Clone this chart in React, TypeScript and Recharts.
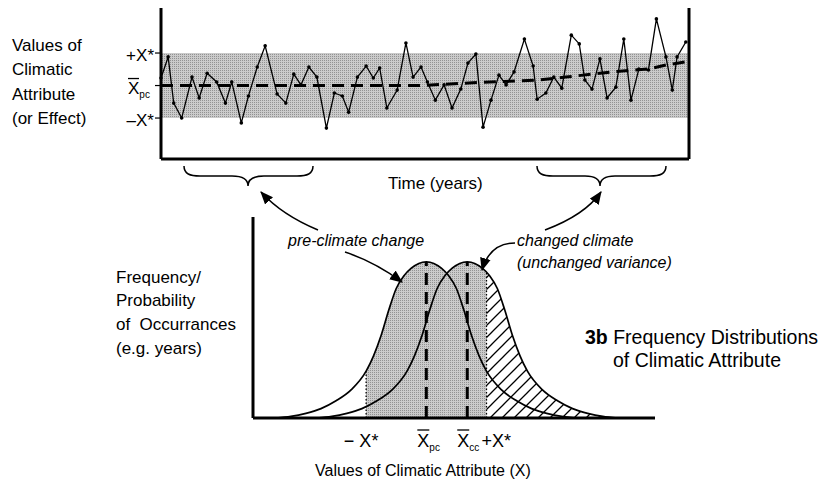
import React from "react";
import { LineChart, Line, XAxis, YAxis, ReferenceArea, ReferenceLine, ComposedChart, Area } from "recharts";

const FONT = '"Liberation Sans", Arial, Helvetica, sans-serif';

// top panel: yearly values of the attribute, in units of X*
const YEARS = [0, 0.9, 1.6, 2.6, 3.9, 4.8, 5.8, 7.0, 8.1, 8.9, 10.1, 11.0, 12.1, 13.1, 14.6, 15.7, 16.7, 17.6, 18.6, 19.6,
  20.8, 21.8, 22.8, 23.6, 24.7, 25.8, 26.7, 27.5, 28.4, 29.7, 30.8, 31.7, 32.7, 33.5, 34.5, 35.6, 36.6, 37.7, 38.6, 39.6,
  40.5, 41.5, 42.5, 43.4, 44.4, 45.7, 46.8, 47.3, 48.4, 49.4, 50.4, 51.6, 52.6, 53.3, 54.2, 55.2, 56.1, 57.2, 58.2, 59.1,
  60.1, 61.3, 62.3, 63.5, 64.3, 64.9, 66.0];
const VALUES = [0.23, 0.88, -0.54, -1.0, 0.26, -0.38, 0.38, 0.11, -0.54, 0.11, -1.15, -0.32, 0.57, 1.22, -0.26, -0.54, 0.35, 0.02, 0.57, 0.26,
  -1.31, -0.23, -0.32, -0.82, 0.26, 0.6, 0.23, 0.54, -0.69, -0.14, 1.31, 0.26, 0.57, 0.11, -0.45, 0.02, -0.69, -0.11, 0.69, 0.97,
  -1.28, -0.45, 0.32, 0.02, 0.42, 1.43, 0.6, -0.42, -0.23, 0.26, -0.08, 1.55, 1.28, 0.17, -0.11, 0.82, -0.38, -0.05, 1.43, -0.45,
  0.51, 0.48, 2.05, 0.88, -0.14, 0.88, 1.34];
const MEAN_YEARS = [0, 32.5, 38.7, 47.5, 50.9, 56.7, 61.4, 63.5, 66.4];
const MEAN_VALUES = [0, 0, 0.08, 0.17, 0.26, 0.42, 0.51, 0.63, 0.75];
const TOP_TICKS = [-1, 0, 1];
const CC_LEVEL = [0.75];

// bottom panel: frequency curves, x in units of X*, height relative to the peak
const PC_X = [-2.5, -2.25, -2, -1.75, -1.5, -1.25, -1, -0.875, -0.75, -0.625, -0.5, -0.375, -0.25, -0.125, 0,
  0.125, 0.25, 0.375, 0.5, 0.625, 0.75, 0.875, 1, 1.25, 1.5, 1.75, 2, 2.25, 2.5];
const PC_Y = [0, 0.01, 0.03, 0.06, 0.11, 0.18, 0.3, 0.4, 0.53, 0.69, 0.83, 0.91, 0.96, 0.99, 1,
  0.99, 0.96, 0.91, 0.83, 0.69, 0.53, 0.4, 0.3, 0.18, 0.11, 0.06, 0.03, 0.01, 0];
const CC_X = [-1.82, -1.57, -1.32, -1.07, -0.82, -0.57, -0.32, -0.195, -0.07, 0.055, 0.18, 0.305, 0.43, 0.555, 0.68,
  0.805, 0.93, 1.055, 1.18, 1.305, 1.43, 1.555, 1.68, 1.93, 2.18, 2.43, 2.68, 2.93, 3.18];
const CC_Y = [0, 0.01, 0.03, 0.06, 0.11, 0.18, 0.3, 0.4, 0.53, 0.69, 0.83, 0.91, 0.96, 0.99, 1,
  0.99, 0.96, 0.91, 0.83, 0.69, 0.53, 0.4, 0.3, 0.18, 0.11, 0.06, 0.03, 0.01, 0];
const SHADE_PC_X = [-1, -0.875, -0.75, -0.625, -0.5, -0.375, -0.25, -0.125, 0, 0.125, 0.25, 0.34];
const SHADE_PC_Y = [0.3, 0.4, 0.53, 0.69, 0.83, 0.91, 0.96, 0.99, 1, 0.99, 0.96, 0.925];
const SHADE_CC_X = [0.34, 0.43, 0.555, 0.68, 0.805, 0.93, 1];
const SHADE_CC_Y = [0.925, 0.96, 0.99, 1, 0.99, 0.96, 0.93];
const HATCH_X = [1, 1.055, 1.18, 1.305, 1.43, 1.555, 1.68, 1.93, 2.18, 2.43, 2.68, 2.93, 3.18];
const HATCH_Y = [0.93, 0.91, 0.83, 0.69, 0.53, 0.4, 0.3, 0.18, 0.11, 0.06, 0.03, 0.01, 0];
const PC_MEAN = 0;
const CC_MEAN = 0.68;
const LIMIT = 1;
const BOTTOM_TICKS = [-1, 0, 0.68, 1];

const series = YEARS.map((t, i) => ({ t, v: VALUES[i] }));
const meanSeries = MEAN_YEARS.map((t, i) => ({ t, v: MEAN_VALUES[i] }));
const pts = (xs: number[], ys: number[]) => xs.map((x, i) => ({ x, y: ys[i] }));

const Over = ({ x1, x2, y }: any) => <line x1={x1} x2={x2} y1={y} y2={y} stroke="#000" strokeWidth={1.3} />;

function TopLeftTick({ x, y, payload }: any) {
  const v = payload.value;
  if (v === 0) {
    return <g fontFamily={FONT}>
      <text x={x - 27} y={y + 8} fontSize={17}>X<tspan fontSize={10} dy={4}>pc</tspan></text>
      <Over x1={x - 27} x2={x - 16} y={y - 7} />
    </g>;
  }
  return <text x={x - 1} y={y + 8} textAnchor="end" fontSize={17} fontFamily={FONT}>{v > 0 ? "+X*" : "\u2013X*"}</text>;
}

function TopRightTick({ x, y }: any) {
  return <g fontFamily={FONT}>
    <text x={x + 7} y={y + 7} fontSize={17}>X<tspan fontSize={10} dy={4}>cc</tspan></text>
    <Over x1={x + 7} x2={x + 18} y={y - 8} />
  </g>;
}

function BottomTick({ x, y, payload }: any) {
  const v = payload.value;
  const base = y + 29;
  if (v === -1) return <text x={x - 5} y={base} textAnchor="middle" fontSize={18} fontFamily={FONT}>{"\u2212 X*"}</text>;
  if (v === 1) return <text x={x - 5} y={base} fontSize={18} fontFamily={FONT}>+X*</text>;
  const sub = v === 0 ? "pc" : "cc";
  const x0 = v === 0 ? x - 9 : x - 10;
  return <g fontFamily={FONT}>
    <text x={x0} y={base} fontSize={18}>X<tspan fontSize={10} dy={4}>{sub}</tspan></text>
    <Over x1={x0} x2={x0 + 12} y={base - 17} />
  </g>;
}

function Patterns() {
  return <defs>
    <pattern id="stipple" width="2" height="2" patternUnits="userSpaceOnUse">
      <rect width="2" height="2" fill="#cbcbcb" />
      <rect width="1" height="1" fill="#929292" />
    </pattern>
    <pattern id="hatch" width="12" height="12" patternUnits="userSpaceOnUse">
      <path d="M0,12 L12,0 M-3,3 L3,-3 M9,15 L15,9" stroke="#000" strokeWidth="1.3" />
    </pattern>
  </defs>;
}

export default function App() {
  return (
    <div style={{ position: "absolute", left: 0, top: 0, width: 827, height: 483, background: "#fff", fontFamily: FONT }}>
      <div style={{ position: "absolute", left: 0, top: 0 }}>
        <LineChart width={827} height={200} margin={{ top: 8, left: 111, right: 78, bottom: 31 }}>
          <Patterns />
          <XAxis type="number" dataKey="t" domain={[0, 66.4]} tick={false} height={10}
            axisLine={{ stroke: "#000", strokeWidth: 3 }} tickLine={false} />
          <YAxis yAxisId="l" type="number" domain={[-2.26, 2.385]} ticks={TOP_TICKS} width={50}
            axisLine={{ stroke: "#000", strokeWidth: 3 }} tickLine={{ stroke: "#000", strokeWidth: 1.2 }}
            tickSize={6} tickMargin={0} tick={<TopLeftTick />} />
          <YAxis yAxisId="r" orientation="right" type="number" domain={[-2.26, 2.385]} ticks={CC_LEVEL} width={60}
            axisLine={{ stroke: "#000", strokeWidth: 3 }} tickLine={{ stroke: "#000", strokeWidth: 1.2 }}
            tickSize={8} tickMargin={0} tick={<TopRightTick />} />
          <ReferenceArea yAxisId="l" y1={-1} y2={1} fill="url(#stipple)" fillOpacity={1} stroke="none" />
          <Line yAxisId="l" data={meanSeries} dataKey="v" type="linear" stroke="#000" strokeWidth={3}
            strokeDasharray="12 7" dot={false} activeDot={false} isAnimationActive={false} />
          <Line yAxisId="l" data={series} dataKey="v" type="linear" stroke="#000" strokeWidth={1.3}
            dot={{ r: 1.8, fill: "#000", stroke: "none" }} activeDot={false} isAnimationActive={false} />
        </LineChart>
      </div>

      <div style={{ position: "absolute", left: 0, top: 200 }}>
        <ComposedChart width={827} height={283} margin={{ top: 17, left: 243, right: 172, bottom: 35 }}>
          <Patterns />
          <XAxis type="number" dataKey="x" domain={[-2.88, 3.8]} allowDataOverflow ticks={BOTTOM_TICKS} height={30}
            axisLine={{ stroke: "#000", strokeWidth: 3 }} tickLine={false} tickSize={0} tickMargin={0}
            tick={<BottomTick />} interval={0} />
          <YAxis type="number" domain={[0, 1.288]} allowDataOverflow tick={false} tickLine={false} width={10}
            axisLine={{ stroke: "#000", strokeWidth: 3 }} />
          <Area data={pts(SHADE_PC_X, SHADE_PC_Y)} dataKey="y" type="monotone" stroke="none" fill="url(#stipple)"
            fillOpacity={1} isAnimationActive={false} activeDot={false} />
          <Area data={pts(SHADE_CC_X, SHADE_CC_Y)} dataKey="y" type="monotone" stroke="none" fill="url(#stipple)"
            fillOpacity={1} isAnimationActive={false} activeDot={false} />
          <Area data={pts(HATCH_X, HATCH_Y)} dataKey="y" type="monotone" stroke="none" fill="url(#hatch)"
            fillOpacity={1} isAnimationActive={false} activeDot={false} />
          <Line data={pts(PC_X, PC_Y)} dataKey="y" type="monotone" stroke="#000" strokeWidth={1.7}
            dot={false} activeDot={false} isAnimationActive={false} />
          <Line data={pts(CC_X, CC_Y)} dataKey="y" type="monotone" stroke="#000" strokeWidth={1.7}
            dot={false} activeDot={false} isAnimationActive={false} />
          <ReferenceLine segment={[{ x: PC_MEAN, y: 0 }, { x: PC_MEAN, y: 1 }]} stroke="#000" strokeWidth={3} strokeDasharray="12 7" />
          <ReferenceLine segment={[{ x: CC_MEAN, y: 0 }, { x: CC_MEAN, y: 1 }]} stroke="#000" strokeWidth={3} strokeDasharray="12 7" />
          <ReferenceLine segment={[{ x: -LIMIT, y: 0 }, { x: -LIMIT, y: 0.3 }]} stroke="#000" strokeWidth={1.3} strokeDasharray="1.5 2" />
          <ReferenceLine segment={[{ x: LIMIT, y: 0 }, { x: LIMIT, y: 0.93 }]} stroke="#000" strokeWidth={1.3} strokeDasharray="1.5 2" />
        </ComposedChart>
      </div>

      <svg width={827} height={483} style={{ position: "absolute", left: 0, top: 0, pointerEvents: "none" }} fontFamily={FONT}>
        <defs>
          <marker id="head" viewBox="0 0 12 10" refX="11" refY="5" markerWidth="13" markerHeight="11"
            markerUnits="userSpaceOnUse" orient="auto">
            <path d="M0,0 L12,5 L0,10 z" fill="#000" />
          </marker>
        </defs>
        <g fontSize={17}>
          <text x={12} y={51}>Values of</text>
          <text x={12} y={75}>Climatic</text>
          <text x={12} y={100}>Attribute</text>
          <text x={12} y={124}>(or Effect)</text>
          <text x={388} y={189}>Time (years)</text>
          <text x={116} y={283}>Frequency/</text>
          <text x={116} y={306}>Probability</text>
          <text x={116} y={330} style={{ whiteSpace: "pre" }}>of  Occurrances</text>
          <text x={116} y={354}>(e.g. years)</text>
        </g>
        <g fontSize={16} fontStyle="italic">
          <text x={288} y={246}>pre-climate change</text>
          <text x={517} y={246}>changed climate</text>
          <text x={517} y={268}>(unchanged variance)</text>
        </g>
        <g fontSize={19.5}>
          <text x={585} y={344}><tspan fontWeight="bold">3b</tspan>{"  "}Frequency Distributions</text>
          <text x={613} y={367}>of Climatic Attribute</text>
        </g>
        <text x={315} y={476} fontSize={16}>Values of Climatic Attribute (X)</text>
        <g fill="none" stroke="#000" strokeWidth={1.5}>
          <path d="M184,166 C184,174 190,176 200,176 L232,176 C244,176 248,180 248,186 C248,180 252,176 264,176 L297,176 C307,176 313,174 313,166" />
          <path d="M537,166 C537,174 543,176 553,176 L585,176 C596,176 600,180 600,186 C600,180 604,176 615,176 L650,176 C660,176 666,174 666,166" />
          <path d="M318,230 Q282,215 261,192" markerEnd="url(#head)" />
          <path d="M545,230 Q585,215 601,192" markerEnd="url(#head)" />
          <path d="M345,252 Q375,262 402,282" markerEnd="url(#head)" />
          <path d="M515,243 Q490,243 482,270" markerEnd="url(#head)" />
        </g>
      </svg>
    </div>
  );
}
